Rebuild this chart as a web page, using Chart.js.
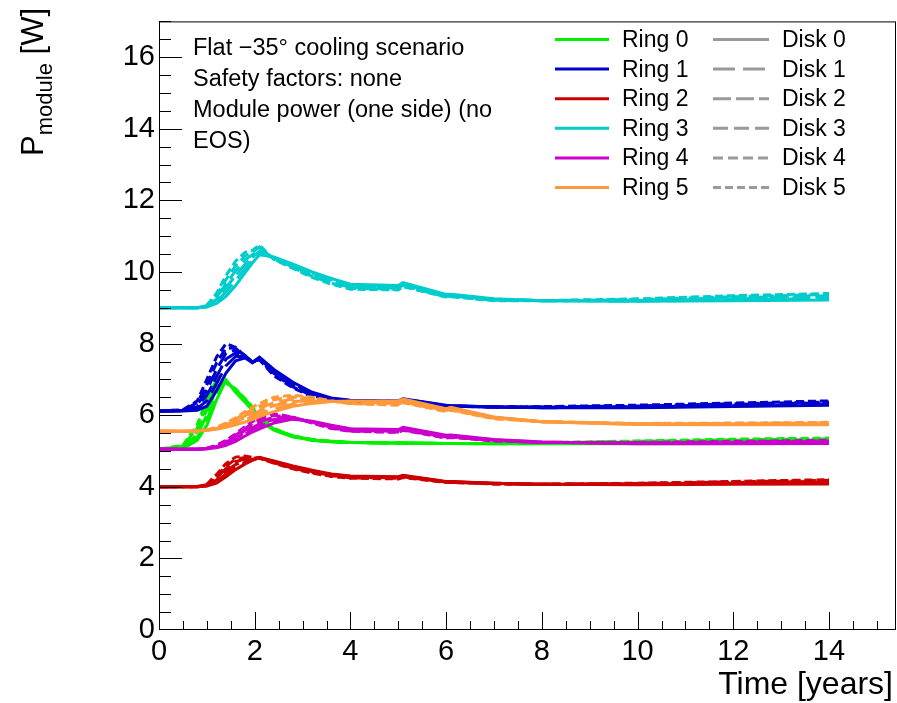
<!DOCTYPE html>
<html>
<head>
<meta charset="utf-8">
<title>Module power vs time</title>
<script src="https://cdn.jsdelivr.net/npm/chart.js@4.4.1/dist/chart.umd.min.js"></script>
<style>
  html, body { margin: 0; padding: 0; background: #fff; }
  #plot { display: block; }
</style>
</head>
<body>
<canvas id="plot" width="897" height="703"></canvas>
<script>
// time grid shared by every curve [years]
var years = [0, 0.5, 0.8, 1.0, 1.2, 1.4, 1.6, 1.8, 1.95, 2.1, 2.4, 2.8, 3.2, 3.6, 4.0, 5.0, 5.1, 6.0, 6.1, 7.0, 8.0, 10.0, 12.0, 14.0];

// module power [W], one row per disk (Disk 0 .. Disk 5)
var ring0 = [
    [5.05, 5.06, 5.30, 5.72, 6.42, 6.98, 6.64, 6.36, 6.14, 5.85, 5.58, 5.40, 5.30, 5.26, 5.24, 5.22, 5.22, 5.21, 5.21, 5.20, 5.20, 5.20, 5.21, 5.22],
    [5.05, 5.08, 5.38, 5.85, 6.60, 6.98, 6.66, 6.38, 6.16, 5.87, 5.59, 5.40, 5.30, 5.26, 5.24, 5.22, 5.22, 5.21, 5.21, 5.20, 5.21, 5.22, 5.24, 5.26],
    [5.05, 5.10, 5.46, 6.00, 6.78, 6.96, 6.68, 6.40, 6.18, 5.89, 5.60, 5.41, 5.31, 5.26, 5.24, 5.22, 5.22, 5.21, 5.21, 5.21, 5.22, 5.24, 5.27, 5.29],
    [5.05, 5.12, 5.55, 6.15, 6.92, 6.94, 6.70, 6.42, 6.20, 5.91, 5.61, 5.41, 5.31, 5.27, 5.24, 5.22, 5.22, 5.21, 5.21, 5.21, 5.22, 5.25, 5.29, 5.32],
    [5.05, 5.14, 5.64, 6.30, 7.02, 6.92, 6.72, 6.44, 6.22, 5.93, 5.62, 5.42, 5.32, 5.27, 5.24, 5.22, 5.22, 5.21, 5.21, 5.21, 5.23, 5.27, 5.31, 5.34],
    [5.05, 5.16, 5.73, 6.45, 7.08, 6.90, 6.74, 6.46, 6.24, 5.95, 5.63, 5.42, 5.32, 5.27, 5.24, 5.22, 5.22, 5.21, 5.21, 5.21, 5.23, 5.28, 5.33, 5.36]
];
var ring1 = [
    [6.12, 6.12, 6.14, 6.25, 6.68, 7.18, 7.52, 7.60, 7.47, 7.62, 7.28, 6.92, 6.64, 6.48, 6.42, 6.40, 6.46, 6.28, 6.27, 6.23, 6.21, 6.21, 6.24, 6.28],
    [6.12, 6.12, 6.19, 6.40, 6.88, 7.38, 7.64, 7.64, 7.47, 7.60, 7.24, 6.88, 6.61, 6.46, 6.41, 6.39, 6.45, 6.27, 6.26, 6.23, 6.21, 6.22, 6.26, 6.30],
    [6.12, 6.13, 6.24, 6.55, 7.07, 7.57, 7.74, 7.66, 7.48, 7.59, 7.20, 6.85, 6.59, 6.44, 6.40, 6.38, 6.44, 6.26, 6.26, 6.23, 6.22, 6.23, 6.28, 6.33],
    [6.12, 6.13, 6.29, 6.70, 7.26, 7.74, 7.82, 7.67, 7.48, 7.58, 7.17, 6.82, 6.57, 6.43, 6.39, 6.37, 6.43, 6.26, 6.25, 6.23, 6.22, 6.24, 6.30, 6.35],
    [6.12, 6.14, 6.35, 6.85, 7.45, 7.88, 7.87, 7.66, 7.48, 7.56, 7.14, 6.79, 6.55, 6.41, 6.37, 6.36, 6.42, 6.25, 6.25, 6.23, 6.23, 6.26, 6.32, 6.37],
    [6.12, 6.15, 6.40, 7.00, 7.62, 8.00, 7.90, 7.65, 7.48, 7.55, 7.10, 6.76, 6.52, 6.40, 6.36, 6.35, 6.41, 6.25, 6.25, 6.23, 6.24, 6.28, 6.34, 6.40]
];
var ring2 = [
    [4.00, 4.00, 4.00, 4.02, 4.10, 4.28, 4.48, 4.64, 4.74, 4.82, 4.72, 4.58, 4.46, 4.36, 4.30, 4.28, 4.32, 4.15, 4.15, 4.10, 4.07, 4.06, 4.07, 4.08],
    [4.00, 4.00, 4.00, 4.03, 4.15, 4.36, 4.55, 4.68, 4.75, 4.81, 4.71, 4.56, 4.44, 4.35, 4.29, 4.27, 4.31, 4.14, 4.14, 4.10, 4.07, 4.07, 4.09, 4.10],
    [4.00, 4.00, 4.00, 4.04, 4.19, 4.44, 4.62, 4.73, 4.77, 4.81, 4.70, 4.55, 4.43, 4.33, 4.28, 4.26, 4.30, 4.14, 4.14, 4.09, 4.07, 4.08, 4.10, 4.13],
    [4.00, 4.00, 4.01, 4.05, 4.24, 4.51, 4.70, 4.78, 4.79, 4.80, 4.69, 4.53, 4.41, 4.32, 4.27, 4.25, 4.29, 4.13, 4.13, 4.09, 4.07, 4.08, 4.12, 4.15],
    [4.00, 4.00, 4.01, 4.06, 4.29, 4.58, 4.77, 4.82, 4.81, 4.80, 4.67, 4.52, 4.40, 4.31, 4.25, 4.24, 4.28, 4.13, 4.13, 4.08, 4.07, 4.09, 4.14, 4.18],
    [4.00, 4.00, 4.01, 4.07, 4.34, 4.65, 4.83, 4.86, 4.82, 4.80, 4.66, 4.50, 4.38, 4.29, 4.24, 4.22, 4.26, 4.12, 4.12, 4.08, 4.07, 4.10, 4.15, 4.20]
];
var ring3 = [
    [9.00, 9.00, 9.00, 9.02, 9.12, 9.32, 9.62, 9.98, 10.25, 10.48, 10.42, 10.22, 10.00, 9.82, 9.66, 9.62, 9.70, 9.37, 9.38, 9.25, 9.20, 9.18, 9.20, 9.22],
    [9.00, 9.00, 9.00, 9.03, 9.18, 9.44, 9.76, 10.10, 10.33, 10.53, 10.40, 10.20, 9.97, 9.79, 9.63, 9.60, 9.68, 9.35, 9.36, 9.24, 9.20, 9.19, 9.22, 9.26],
    [9.00, 9.00, 9.00, 9.04, 9.23, 9.56, 9.90, 10.22, 10.41, 10.58, 10.38, 10.17, 9.94, 9.76, 9.60, 9.57, 9.66, 9.34, 9.35, 9.23, 9.20, 9.20, 9.25, 9.30],
    [9.00, 9.00, 9.00, 9.05, 9.29, 9.67, 10.03, 10.34, 10.48, 10.64, 10.37, 10.14, 9.91, 9.72, 9.57, 9.55, 9.63, 9.32, 9.33, 9.22, 9.20, 9.21, 9.28, 9.34],
    [9.00, 9.00, 9.00, 9.06, 9.34, 9.79, 10.17, 10.45, 10.55, 10.70, 10.36, 10.12, 9.88, 9.69, 9.54, 9.52, 9.61, 9.31, 9.32, 9.21, 9.20, 9.23, 9.31, 9.37],
    [9.00, 9.00, 9.00, 9.07, 9.40, 9.90, 10.30, 10.55, 10.60, 10.75, 10.35, 10.10, 9.85, 9.66, 9.52, 9.50, 9.59, 9.30, 9.31, 9.20, 9.20, 9.25, 9.34, 9.40]
];
var ring4 = [
    [5.05, 5.05, 5.05, 5.06, 5.09, 5.16, 5.27, 5.42, 5.53, 5.62, 5.78, 5.89, 5.83, 5.72, 5.62, 5.60, 5.66, 5.44, 5.45, 5.32, 5.25, 5.20, 5.20, 5.21],
    [5.05, 5.05, 5.05, 5.06, 5.10, 5.18, 5.30, 5.47, 5.59, 5.69, 5.83, 5.90, 5.82, 5.70, 5.61, 5.58, 5.64, 5.42, 5.43, 5.31, 5.25, 5.21, 5.21, 5.23],
    [5.05, 5.05, 5.05, 5.07, 5.12, 5.21, 5.35, 5.52, 5.65, 5.76, 5.88, 5.92, 5.81, 5.68, 5.59, 5.57, 5.63, 5.41, 5.42, 5.30, 5.24, 5.22, 5.23, 5.25],
    [5.05, 5.05, 5.05, 5.07, 5.13, 5.24, 5.40, 5.58, 5.71, 5.82, 5.94, 5.93, 5.80, 5.66, 5.58, 5.55, 5.61, 5.39, 5.40, 5.30, 5.24, 5.23, 5.24, 5.27],
    [5.05, 5.05, 5.05, 5.08, 5.15, 5.27, 5.44, 5.63, 5.77, 5.88, 5.99, 5.94, 5.79, 5.64, 5.56, 5.53, 5.59, 5.37, 5.39, 5.29, 5.24, 5.23, 5.25, 5.28],
    [5.05, 5.05, 5.05, 5.08, 5.16, 5.30, 5.48, 5.68, 5.82, 5.93, 6.04, 5.95, 5.78, 5.63, 5.55, 5.52, 5.58, 5.36, 5.38, 5.28, 5.24, 5.24, 5.27, 5.30]
];
var ring5 = [
    [5.55, 5.55, 5.56, 5.58, 5.61, 5.66, 5.73, 5.81, 5.88, 5.96, 6.10, 6.25, 6.33, 6.38, 6.40, 6.40, 6.45, 6.18, 6.22, 5.95, 5.82, 5.74, 5.73, 5.73],
    [5.55, 5.55, 5.56, 5.58, 5.62, 5.68, 5.77, 5.87, 5.95, 6.04, 6.18, 6.31, 6.36, 6.38, 6.38, 6.38, 6.43, 6.16, 6.20, 5.94, 5.82, 5.75, 5.74, 5.74],
    [5.55, 5.55, 5.56, 5.58, 5.63, 5.71, 5.81, 5.93, 6.02, 6.12, 6.27, 6.38, 6.40, 6.38, 6.36, 6.35, 6.41, 6.14, 6.18, 5.93, 5.82, 5.75, 5.75, 5.76],
    [5.55, 5.55, 5.56, 5.59, 5.64, 5.73, 5.85, 5.99, 6.09, 6.19, 6.35, 6.45, 6.44, 6.39, 6.35, 6.33, 6.39, 6.13, 6.17, 5.92, 5.82, 5.76, 5.76, 5.77],
    [5.55, 5.55, 5.56, 5.59, 5.65, 5.76, 5.89, 6.05, 6.16, 6.26, 6.43, 6.51, 6.47, 6.40, 6.33, 6.30, 6.37, 6.11, 6.15, 5.91, 5.82, 5.76, 5.77, 5.79],
    [5.55, 5.55, 5.56, 5.59, 5.66, 5.78, 5.93, 6.10, 6.22, 6.33, 6.50, 6.56, 6.50, 6.40, 6.32, 6.28, 6.35, 6.10, 6.14, 5.90, 5.82, 5.77, 5.78, 5.80]
];

var rings = [ring0, ring1, ring2, ring3, ring4, ring5];
var ringNames = ['Ring 0', 'Ring 1', 'Ring 2', 'Ring 3', 'Ring 4', 'Ring 5'];
var diskNames = ['Disk 0', 'Disk 1', 'Disk 2', 'Disk 3', 'Disk 4', 'Disk 5'];
var xTicks = [0, 2, 4, 6, 8, 10, 12, 14];
var yTicks = [0, 2, 4, 6, 8, 10, 12, 14, 16];
var notes = ['Flat \u221235\u00b0 cooling scenario', 'Safety factors: none', 'Module power (one side) (no', 'EOS)'];

// styles
var ringColors = ['#00f000', '#0000cc', '#cc0000', '#00cccc', '#cc00cc', '#ff9a3c'];
var diskDashes = [[], [22, 8], [18, 5], [15, 6], [10, 5], [8, 4]];
var FONT = '"Liberation Sans", Arial, Helvetica, sans-serif';

/* helpers */
function line(ctx, x1, y1, x2, y2) {
    ctx.beginPath();
    ctx.moveTo(x1, y1);
    ctx.lineTo(x2, y2);
    ctx.stroke();
}

function buildDatasets() {
    var sets = [];
    // first dataset ends up on top, so the last ring goes first
    for (var r = rings.length - 1; r >= 0; r--) {
        for (var d = 0; d < rings[r].length; d++) {
            var vals = rings[r][d];
            sets.push({
                label: ringNames[r] + ' ' + diskNames[d],
                data: years.map(function (t, i) { return { x: t, y: vals[i] }; }),
                borderColor: ringColors[r],
                borderWidth: 3,
                borderDash: diskDashes[d],
                pointRadius: 0,
                fill: false,
                tension: 0
            });
        }
    }
    return sets;
}

// frame, inner ticks, axis titles, text box and legend, the way ROOT draws them
var rootFrame = {
    id: 'rootFrame',
    beforeDraw: function (chart) {
        var ctx = chart.ctx;
        ctx.save();
        ctx.fillStyle = '#fff';
        ctx.fillRect(0, 0, chart.width, chart.height);
        ctx.restore();
    },
    afterDraw: function (chart) {
        var ctx = chart.ctx;
        var a = chart.chartArea;
        var xs = chart.scales.x, ys = chart.scales.y;
        var v, p;

        ctx.save();
        ctx.strokeStyle = '#000';
        ctx.lineWidth = 1;
        ctx.setLineDash([]);
        ctx.strokeRect(a.left + 0.5, a.top + 0.5, a.right - a.left - 1, a.bottom - a.top - 1);

        for (v = 0.5; v <= xs.max; v += 0.5) {
            p = Math.round(xs.getPixelForValue(v)) + 0.5;
            line(ctx, p, a.bottom, p, a.bottom - (v % 2 === 0 ? 18 : 9));
        }
        for (v = 0.5; v <= ys.max; v += 0.5) {
            p = Math.round(ys.getPixelForValue(v)) + 0.5;
            line(ctx, a.left, p, a.left + (v % 2 === 0 ? 23 : 12), p);
        }

        ctx.fillStyle = '#000';
        ctx.textBaseline = 'alphabetic';

        // x title, right aligned at the axis end
        ctx.font = '32px ' + FONT;
        ctx.textAlign = 'right';
        ctx.fillText('Time [years]', 893, 694);

        // y title P_module [W], rotated
        ctx.save();
        ctx.rotate(-Math.PI / 2);
        ctx.textAlign = 'left';
        ctx.font = '31px ' + FONT;
        var wP = ctx.measureText('P').width;
        var wW = ctx.measureText(' [W]').width;
        ctx.font = '22px ' + FONT;
        var wSub = ctx.measureText('module').width;
        var start = -8 - (wP + wSub + wW);
        ctx.font = '31px ' + FONT;
        ctx.fillText('P', start, 43);
        ctx.font = '22px ' + FONT;
        ctx.fillText('module', start + wP, 52);
        ctx.font = '31px ' + FONT;
        ctx.fillText(' [W]', start + wP + wSub, 43);
        ctx.restore();

        // scenario notes
        ctx.font = '23.5px ' + FONT;
        ctx.textAlign = 'left';
        for (var i = 0; i < notes.length; i++) {
            ctx.fillText(notes[i], 193, 54.5 + 31.2 * i);
        }

        // legend: rings by colour, disks by line style
        ctx.font = '23px ' + FONT;
        for (var k = 0; k < 6; k++) {
            var ly = 39.5 + 29.6 * k;
            ctx.lineWidth = 3;
            ctx.setLineDash([]);
            ctx.strokeStyle = ringColors[k];
            line(ctx, 555, ly, 609, ly);
            ctx.strokeStyle = '#999';
            ctx.setLineDash(diskDashes[k]);
            line(ctx, 713, ly, 769, ly);
            ctx.fillText(ringNames[k], 622, ly + 7.5);
            ctx.fillText(diskNames[k], 782, ly + 7.5);
        }
        ctx.restore();
    }
};

new Chart(document.getElementById('plot'), {
    type: 'line',
    data: { datasets: buildDatasets() },
    plugins: [rootFrame],
    options: {
        responsive: false,
        devicePixelRatio: 1,
        animation: false,
        layout: { padding: { top: 10, right: 1, left: 0, bottom: 0 } },
        plugins: {
            legend: { display: false },
            tooltip: { enabled: false }
        },
        scales: {
            x: {
                type: 'linear',
                min: 0,
                max: 15.4,
                afterFit: function (scale) { scale.height = 73; },
                afterBuildTicks: function (scale) {
                    scale.ticks = xTicks.map(function (v) { return { value: v }; });
                },
                grid: { display: false, drawTicks: false },
                border: { display: false },
                ticks: {
                    padding: 5,
                    maxRotation: 0,
                    color: '#000',
                    font: { family: FONT, size: 29 }
                }
            },
            y: {
                type: 'linear',
                min: 0,
                max: 17,
                afterFit: function (scale) { scale.width = 159; },
                afterBuildTicks: function (scale) {
                    scale.ticks = yTicks.map(function (v) { return { value: v }; });
                },
                grid: { display: false, drawTicks: false },
                border: { display: false },
                ticks: {
                    padding: 4,
                    color: '#000',
                    font: { family: FONT, size: 29 }
                }
            }
        }
    }
});
</script>
</body>
</html>
